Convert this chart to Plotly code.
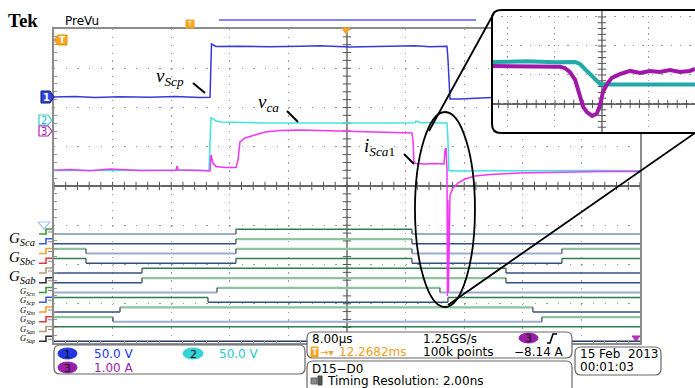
import plotly.graph_objects as go

W, H = 695, 388

# ---------------- data (time in us from left screen edge, 8 us/div; level in screen divisions, 0 = bottom) -------------
ch1_t = [0, 2.87, 5.60, 9.01, 13.11, 16.52, 19.93, 21.30, 21.50, 21.71, 22.12, 25.39, 29.49, 33.58, 36.31, 40.41,
         44.50, 47.92, 49.28, 51.33, 53.65, 53.79, 53.92, 54.06, 55.43, 56.79, 58.16, 59.80]
ch1_v = [6.268, 6.280, 6.255, 6.273, 6.260, 6.278, 6.257, 6.262, 7.618, 7.592, 7.554, 7.561, 7.546, 7.559, 7.572,
         7.541, 7.551, 7.559, 7.574, 7.546, 7.559, 7.210, 6.446, 6.217, 6.217, 6.229, 6.242, 6.255]

ch2_t = [0, 6.28, 13.11, 18.57, 21.16, 21.43, 21.71, 22.12, 22.93, 25.39, 28.12, 33.58, 40.41, 45.87, 49.28, 49.42,
         49.96, 53.38, 53.65, 53.78, 53.92, 54.74, 58.16, 63.62, 69.08, 74.54, 80.0]
ch2_v = [4.395, 4.402, 4.392, 4.400, 4.395, 5.733, 5.707, 5.656, 5.631, 5.618, 5.606, 5.606, 5.598, 5.606, 5.611,
         5.656, 5.618, 5.611, 5.606, 5.172, 4.395, 4.382, 4.387, 4.392, 4.387, 4.395, 4.390]

ch3_t = [0, 2.18, 4.91, 7.65, 11.74, 16.66, 16.79, 16.93, 19.93, 21.30, 21.43, 21.71, 22.12, 23.34, 24.85, 25.12,
         25.39, 26.08, 27.44, 28.81, 30.85, 33.58, 36.31, 39.04, 41.77, 44.50, 47.24, 48.87, 49.01, 49.14, 49.42,
         50.65, 52.01, 53.24, 53.38, 53.51, 53.65, 53.71, 53.78, 53.85, 54.06, 54.47, 55.15, 56.11, 57.47, 59.52,
         63.62, 69.08, 74.54, 80.0]
ch3_v = [4.400, 4.420, 4.387, 4.433, 4.395, 4.402, 4.509, 4.408, 4.395, 4.382, 4.789, 4.585, 4.497, 4.471, 4.471,
         4.662, 5.121, 5.223, 5.300, 5.376, 5.414, 5.427, 5.414, 5.402, 5.381, 5.369, 5.356, 5.350, 5.172, 4.611,
         4.573, 4.560, 4.573, 4.560, 4.917, 4.968, 4.408, 1.200, 3.643, 1.300, 3.770, 3.949, 4.076, 4.178, 4.255,
         4.293, 4.331, 4.357, 4.369, 4.369]

# zoomed inset (divisions of the inset graticule, 0 = centre)
ins_c_t = [-2.34, -1.6, -1.0, -0.574, -0.47, -0.30, -0.15, -0.04, 0.17, 0.8, 1.4, 1.98]
ins_c_v = [1.45, 1.47, 1.44, 1.45, 1.38, 1.10, 0.83, 0.69, 0.67, 0.68, 0.66, 0.67]
ins_m_t = [-2.34, -1.6, -0.89, -0.79, -0.68, -0.57, -0.47, -0.40, -0.32, -0.21, -0.11, -0.04, 0.02, 0.11, 0.21,
           0.38, 0.60, 0.81, 1.02, 1.23, 1.45, 1.66, 1.87, 1.98]
ins_m_v = [1.31, 1.29, 1.28, 1.24, 1.10, 0.83, 0.31, -0.10, -0.28, -0.41, -0.34, -0.03, 0.41, 0.69, 0.90, 1.03,
           1.14, 1.07, 1.14, 1.10, 1.17, 1.10, 1.14, 1.21]

# digital channels: initial logic state and transition times (us)
dig_init = [0, 0, 1, 1, 0, 0, 0, 1, 0, 1, 1, 0]
dig_edges = [[24.84, 48.87], [24.84, 48.87], [4.37, 24.84, 48.87, 69.34], [4.37, 24.84, 48.87, 69.34],
             [12.01, 61.70], [12.01, 61.70], [22.25, 52.69], [21.02, 53.78], [9.01, 65.38], [8.05, 66.61], [], []]
big_labels = ["Sca", "Sbc", "Sab"]
small_labels = ["Scn", "Scp", "Sbn", "Sbp", "San", "Sap"]

ch_scales = ["50.0 V", "50.0 V", "1.00 A"]
timebase = "8.00\u00b5s"
sample_rate = "1.25GS/s"
trig_pos = "12.2682ms"
rec_len = "100k points"
trig_level = "\u22128.14 A"
dig_range = "D15\u2212D0"
timing_res = "Timing Resolution: 2.00ns"
date_str = "15 Feb\u00a0 2013"
time_str = "00:01:03"

# ---------------- helpers ----------------
X = lambda x: x / W
Y = lambda y: 1 - y / H

def rrect(x0, y0, x1, y1, r=5):
    rx, ry = r, r
    return (f"M{X(x0+rx)},{Y(y0)} L{X(x1-rx)},{Y(y0)} Q{X(x1)},{Y(y0)} {X(x1)},{Y(y0+ry)} "
            f"L{X(x1)},{Y(y1-ry)} Q{X(x1)},{Y(y1)} {X(x1-rx)},{Y(y1)} L{X(x0+rx)},{Y(y1)} "
            f"Q{X(x0)},{Y(y1)} {X(x0)},{Y(y1-ry)} L{X(x0)},{Y(y0+ry)} Q{X(x0)},{Y(y0)} {X(x0+rx)},{Y(y0)} Z")

def pts(points):
    s = ""
    for i, (x, y) in enumerate(points):
        s += ("M" if i == 0 else " L") + f"{X(x)},{Y(y)}"
    return s

shapes, annos = [], []

def txt(x, y, s, size=12, color="black", xanchor="left", family="DejaVu Sans", yanchor="middle"):
    annos.append(dict(x=X(x), y=Y(y), xref="paper", yref="paper", text=s, showarrow=False,
                      xanchor=xanchor, yanchor=yanchor, font=dict(size=size, color=color, family=family)))

def pshape(path, color="black", width=1.5, fill=None, layer="above"):
    d = dict(type="path", path=path, xref="paper", yref="paper", layer=layer,
             line=dict(color=color, width=width))
    if fill:
        d["fillcolor"] = fill
    shapes.append(d)

fig = go.Figure()

# ---------------- graticule cross and ticks ----------------
GR = "#555555"
fig.add_trace(go.Scatter(x=[i * 1.6 for i in range(51)], y=[4] * 51, mode="markers",
                         marker=dict(symbol="line-ns", size=6, line=dict(width=1, color=GR)),
                         hoverinfo="skip", showlegend=False))
fig.add_trace(go.Scatter(x=[40] * 41, y=[i * 0.2 for i in range(41)], mode="markers",
                         marker=dict(symbol="line-ew", size=6, line=dict(width=1, color=GR)),
                         hoverinfo="skip", showlegend=False))
shapes.append(dict(type="line", xref="x", yref="y", x0=40, x1=40, y0=0, y1=8, layer="below",
                   line=dict(color=GR, width=1.3)))
shapes.append(dict(type="line", xref="x", yref="y", x0=0, x1=80, y0=4, y1=4, layer="below",
                   line=dict(color="#333", width=1.5)))

# ---------------- digital traces ----------------
DG, LG, DB, LB = "#2f7d50", "#8dc29f", "#34507e", "#9aadc9"
dig_style = [(DG, LB), (LG, DB), (LG, LB), (DG, DB), (DG, DB), (LG, DB),
             (LG, LB), (DG, DB), (LG, DB), (LG, LB), (DG, DB), (DG, "#283c66")]
for k in range(12):
    low = 2.777 - 0.2484 * k
    high = low + 0.12
    edges = [0] + dig_edges[k] + [80]
    st = dig_init[k]
    hx, hy, lx, ly, ex, ey = [], [], [], [], [], []
    for i in range(len(edges) - 1):
        if st:
            hx += [edges[i], edges[i + 1], None]; hy += [high, high, None]
        else:
            lx += [edges[i], edges[i + 1], None]; ly += [low, low, None]
        if i < len(edges) - 2:
            ex += [edges[i + 1], edges[i + 1], None]; ey += [low, high, None]
        st = 1 - st
    hc, lc = dig_style[k]
    for xs, ys, c in ((hx, hy, hc), (lx, ly, lc)):
        if xs:
            fig.add_trace(go.Scatter(x=xs, y=ys, mode="lines", line=dict(color=c, width=2.2 if c in (LG, LB) else 1.4),
                                     hoverinfo="skip", showlegend=False))
    if ex:
        fig.add_trace(go.Scatter(x=ex, y=ey, mode="lines", line=dict(color="#4a4f5a", width=1.3),
                                 hoverinfo="skip", showlegend=False))

# ---------------- analog traces ----------------
fig.add_trace(go.Scatter(x=ch2_t, y=ch2_v, mode="lines", line=dict(color="#3fe3e3", width=1.5), showlegend=False))
fig.add_trace(go.Scatter(x=ch3_t, y=ch3_v, mode="lines", line=dict(color="#f236f2", width=1.5), showlegend=False))
fig.add_trace(go.Scatter(x=ch1_t, y=ch1_v, mode="lines", line=dict(color="#3838dc", width=1.5), showlegend=False))

# ---------------- inset ----------------
fig.add_trace(go.Scatter(x=[-2.2 + i * 0.2 for i in range(21)], y=[0] * 21, mode="markers", xaxis="x2", yaxis="y2",
                         marker=dict(symbol="line-ns", size=6, line=dict(width=1, color=GR)),
                         hoverinfo="skip", showlegend=False))
fig.add_trace(go.Scatter(x=[0] * 21, y=[-1 + i * 0.2 for i in range(21)], mode="markers", xaxis="x2", yaxis="y2",
                         marker=dict(symbol="line-ew", size=6, line=dict(width=1, color=GR)),
                         hoverinfo="skip", showlegend=False))
shapes.append(dict(type="line", xref="x2", yref="y2", x0=0, x1=0, y0=-1, y1=3.24, layer="below",
                   line=dict(color=GR, width=1.3)))
shapes.append(dict(type="line", xref="x2", yref="y2", x0=-2.34, x1=1.98, y0=0, y1=0, layer="below",
                   line=dict(color="#333", width=1.5)))
fig.add_trace(go.Scatter(x=ins_c_t, y=ins_c_v, mode="lines", xaxis="x2", yaxis="y2",
                         line=dict(color="#22a9a9", width=4), showlegend=False))
fig.add_trace(go.Scatter(x=ins_m_t, y=ins_m_v, mode="lines", xaxis="x2", yaxis="y2",
                         line=dict(color="#a019a6", width=4), showlegend=False))
pshape(rrect(492, 10, 730, 133, 9), color="black", width=2)

# ---------------- ellipse + callout lines ----------------
shapes.append(dict(type="circle", xref="x", yref="y", x0=49.28, x1=57.47, y0=0.917, y1=5.885, layer="above",
                   line=dict(color="black", width=1.8)))
pshape(pts([(429, 131), (494, 13)]), width=1.8)
pshape(pts([(448, 305), (695, 133)]), width=1.8)

# trace labels
pshape(pts([(193, 83), (205, 93)]), width=2)
pshape(pts([(287, 111), (298, 122)]), width=2)
pshape(pts([(404, 154), (414, 164)]), width=2)
SER = "Liberation Serif"
txt(154, 77, "<i>v</i><sub><i>Scp</i></sub>", size=19, family=SER)
txt(256, 103, "<i>v</i><sub><i>ca</i></sub>", size=19, family=SER)
txt(362, 147, "<i>i</i><sub><i>Sca</i>1</sub>", size=19, family=SER)

# digital labels
for i, lab in enumerate(big_labels):
    txt(7, [239, 258, 277][i], f"<i>G</i><sub><i>{lab}</i></sub>", size=15, family=SER)
for i, lab in enumerate(small_labels):
    txt(18, 291 + 9.5 * i, f"<i>G</i><sub><i>{lab}</i></sub>", size=8.5, family=SER)

# digital channel flags
flag_cols = ["#3c9a3c", "#3a5be0", "#f0a030", "#e03a3a", "#b59a7a", "#303030"] * 2
for k in range(12):
    yl = 234 + 9.75 * k
    pshape(pts([(39, yl), (46, yl), (46, yl - 5), (52, yl - 5)]), color=flag_cols[k], width=1.6)
    pshape(pts([(48, yl - 2), (52, yl - 2)]), color="#888", width=1)
pshape(pts([(38, 222), (50, 222), (44, 229)]) + " Z", color="#a8c8f0", width=1.2)

# analog channel markers
pshape(pts([(41, 91), (50, 91), (54, 97), (50, 103), (41, 103)]) + " Z", color="#141470", width=1, fill="#3344dd")
txt(46, 97, "<b>1</b>", size=10, color="white", xanchor="center")
pshape(pts([(39, 115), (48, 115), (52, 120), (48, 125), (39, 125)]) + " Z", color="#33cccc", width=1.2, fill="white")
txt(44, 120, "2", size=10, color="#22bbbb", xanchor="center")
pshape(pts([(39, 126), (48, 126), (52, 131), (48, 136), (39, 136)]) + " Z", color="#b020b0", width=1.2, fill="white")
txt(44, 131, "3", size=10, color="#b020b0", xanchor="center")

# top bar
txt(6, 20, "<b>Tek</b>", size=19, family="Liberation Serif")
txt(63, 21, "PreVu", size=12)
pshape(pts([(219, 20), (476, 20)]), color="#5a5aee", width=1.6)
pshape(pts([(186, 20), (194, 20), (194, 28), (186, 28)]) + " Z", color="#f0a020", width=1, fill="#f5a623")
txt(190, 24, "T", size=7, color="white", xanchor="center")
pshape(pts([(342, 28), (350, 28), (346, 34)]) + " Z", color="#f0a020", width=1, fill="#f5a623")
pshape(pts([(58, 35), (67, 35), (67, 45), (58, 45), (54, 40)]) + " Z", color="#e09010", width=1, fill="#f5a623")
txt(62, 40, "<b>T</b>", size=9, color="white", xanchor="center")
pshape(pts([(632, 336), (640, 336), (636, 341)]) + " Z", color="#b020b0", width=1, fill="#c030c0")

# ---------------- info boxes ----------------
pshape(rrect(54, 345, 305, 374, 6), color="#666", width=1.2, fill="white")
pshape(rrect(307, 332, 572, 358, 6), color="#666", width=1.2, fill="white")
pshape(rrect(307, 361, 572, 395, 6), color="#666", width=1.2, fill="white")
pshape(rrect(575, 347, 661, 375, 6), color="#666", width=1.2, fill="white")

def badge(x0, y0, x1, y1, fill, label):
    shapes.append(dict(type="circle", xref="paper", yref="paper", x0=X(x0), x1=X(x1), y0=Y(y1), y1=Y(y0),
                       fillcolor=fill, line=dict(color=fill, width=1), layer="above"))
    txt((x0 + x1) / 2, (y0 + y1) / 2 + 0.5, label, size=11, color="#111", xanchor="center")

badge(58, 348, 77, 359, "#2235e0", "1")
txt(92, 354, ch_scales[0], color="#2233ee")
badge(183, 348, 203, 359, "#35d3d3", "2")
txt(217, 354, ch_scales[1], color="#25c8c8")
badge(58, 362, 77, 373, "#9b1fa8", "3")
txt(92, 368, ch_scales[2], color="#9a22aa")

txt(310, 339, timebase)
txt(421, 339, sample_rate)
badge(519, 333, 538, 343, "#9b1fa8", "3")
pshape(pts([(547, 343), (550, 343), (553, 334), (557, 334)]), color="black", width=1.6)
pshape(pts([(311, 347), (318, 347), (318, 357), (311, 357)]) + " Z", color="#f0a020", width=1, fill="#f5a623")
txt(314.5, 352, "<b>T</b>", size=8, color="white", xanchor="center")
txt(318, 352, "\u2192\u25be", size=10, color="#f0a020")
txt(337, 352, trig_pos, color="#f0a020")
txt(421, 352, rec_len)
txt(566, 352, trig_level, xanchor="right")

txt(310, 369, dig_range)
pshape(pts([(311, 378), (317, 378), (317, 384), (311, 384)]) + " Z", color="#666", width=1, fill="#888")
pshape(pts([(318, 376), (322, 376), (322, 385), (318, 385)]) + " Z", color="#444", width=1, fill="#555")
txt(325, 381, timing_res)

txt(578, 354, date_str)
txt(578, 367, time_str)

# ---------------- layout ----------------
fig.update_layout(
    width=W, height=H, margin=dict(l=0, r=0, t=0, b=0), autosize=False,
    paper_bgcolor="white", plot_bgcolor="white", showlegend=False, hovermode=False,
    xaxis=dict(domain=[54 / W, 640 / W], range=[0, 80], tick0=0, dtick=8, showgrid=True, gridcolor="#9a9a9a",
               gridwidth=1.3, griddash="1.3px,6.55px", zeroline=False, showticklabels=False, ticks="",
               showline=True, linecolor="#8c8c8c", linewidth=2, mirror=True,
               minor=dict(ticks="inside", dtick=1.6, ticklen=3, tickcolor="#999", tickwidth=1, showgrid=False),
               fixedrange=True),
    yaxis=dict(domain=[1 - 343 / H, 1 - 29 / H], range=[0, 8], tick0=0, dtick=1, showgrid=True, gridcolor="#9a9a9a",
               gridwidth=1.3, griddash="1.3px,10.42px", zeroline=False, showticklabels=False, ticks="",
               showline=True, linecolor="#8c8c8c", linewidth=2, mirror=True,
               minor=dict(ticks="inside", dtick=0.2, ticklen=3, tickcolor="#999", tickwidth=1, showgrid=False),
               fixedrange=True),
    xaxis2=dict(domain=[492 / W, 1], range=[-2.34, 1.98], tick0=0, dtick=1, anchor="y2", showgrid=True,
                gridcolor="#9a9a9a", gridwidth=1.3, griddash="1.3px,4.5px", zeroline=False,
                showticklabels=False, ticks="", fixedrange=True),
    yaxis2=dict(domain=[1 - 133 / H, 1 - 10 / H], range=[-1.0, 3.24], tick0=0, dtick=1, anchor="x2", showgrid=True,
                gridcolor="#9a9a9a", gridwidth=1.3, griddash="1.3px,8.1px", zeroline=False,
                showticklabels=False, ticks="", fixedrange=True),
    shapes=shapes, annotations=annos,
)

fig.write_html("out.html")
